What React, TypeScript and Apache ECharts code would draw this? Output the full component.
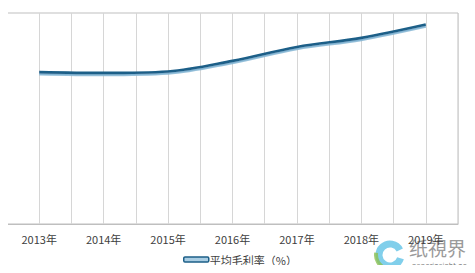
import React, { useEffect, useRef } from "react";
import * as echarts from "echarts";

const years = ["2013", "2014", "2015", "2016", "2017", "2018", "2019"];
const margins = [72.0, 71.6, 72.3, 77.3, 83.9, 88.2, 94.5];
const seriesName = "平均毛利率（%）";

export default function App() {
  const ref = useRef<HTMLDivElement>(null);
  useEffect(() => {
    if (!ref.current) return;
    const chart = echarts.init(ref.current, undefined, { renderer: "svg" });
    const font = "'Noto Sans CJK SC', 'Noto Sans', sans-serif";
    chart.setOption({
      animation: false,
      grid: {
        left: 7,
        right: 17,
        top: 13,
        bottom: 49,
        show: true,
        borderColor: "#bfbfbf",
        borderWidth: 1,
      },
      legend: {
        data: [seriesName],
        bottom: 3,
        left: 178,
        icon: "roundRect",
        itemWidth: 25,
        itemHeight: 5,
        itemGap: 2,
        itemStyle: { color: "#a9cde3", borderColor: "#1c5f88", borderWidth: 1.5 },
        textStyle: { fontSize: 11, color: "#404040", fontFamily: font, padding: [0, 0, 0, -4] },
      },
      xAxis: {
        type: "value",
        min: -0.5,
        max: 6.5,
        interval: 0.5,
        axisLine: { show: true, lineStyle: { color: "#bfbfbf" } },
        axisTick: { show: false },
        splitLine: { show: true, lineStyle: { color: "#d6d6d6", width: 1 } },
        axisLabel: {
          margin: 9,
          fontSize: 11,
          color: "#404040",
          fontFamily: font,
          formatter: (v: number) => {
            const r = Math.round(v);
            return Math.abs(v - r) < 1e-6 && r >= 0 && r < years.length ? years[r] + "年" : "";
          },
        },
      },
      yAxis: {
        type: "value",
        min: 0,
        max: 100,
        axisLabel: { show: false },
        axisLine: { show: false },
        axisTick: { show: false },
        splitLine: { show: false },
      },
      series: [
        {
          name: seriesName,
          type: "line",
          smooth: 0.35,
          symbol: "none",
          data: margins.map((m, i) => [i, m]),
          lineStyle: {
            width: 2.6,
            color: "#1c5f88",
            shadowColor: "#7fb2d2",
            shadowOffsetY: 1.8,
            shadowBlur: 0,
          },
        },
      ],
      graphic: [
        {
          type: "arc",
          shape: { cx: 390, cy: 255, r: 11, startAngle: 0.3, endAngle: Math.PI * 1.85 },
          style: { stroke: "#62c3e6", lineWidth: 7, fill: "none", opacity: 0.8 },
        },
        {
          type: "arc",
          shape: { cx: 390, cy: 255, r: 14, startAngle: Math.PI * 0.6, endAngle: Math.PI * 1.05 },
          style: { stroke: "#8cc152", lineWidth: 4, fill: "none", opacity: 0.8 },
        },
        {
          type: "text",
          left: 409,
          top: 238,
          style: { text: "纸視界", fontSize: 19, fill: "#9a9a9a", fontFamily: "'Noto Sans CJK SC', serif" },
        },
        {
          type: "text",
          left: 412,
          top: 262,
          style: { text: "paperinsight.net", fontSize: 7, fill: "#777777", fontFamily: "'DejaVu Sans', sans-serif" },
        },
      ],
    });
    return () => chart.dispose();
  }, []);
  return <div ref={ref} style={{ width: 475, height: 273, margin: "-8px" }} />;
}
